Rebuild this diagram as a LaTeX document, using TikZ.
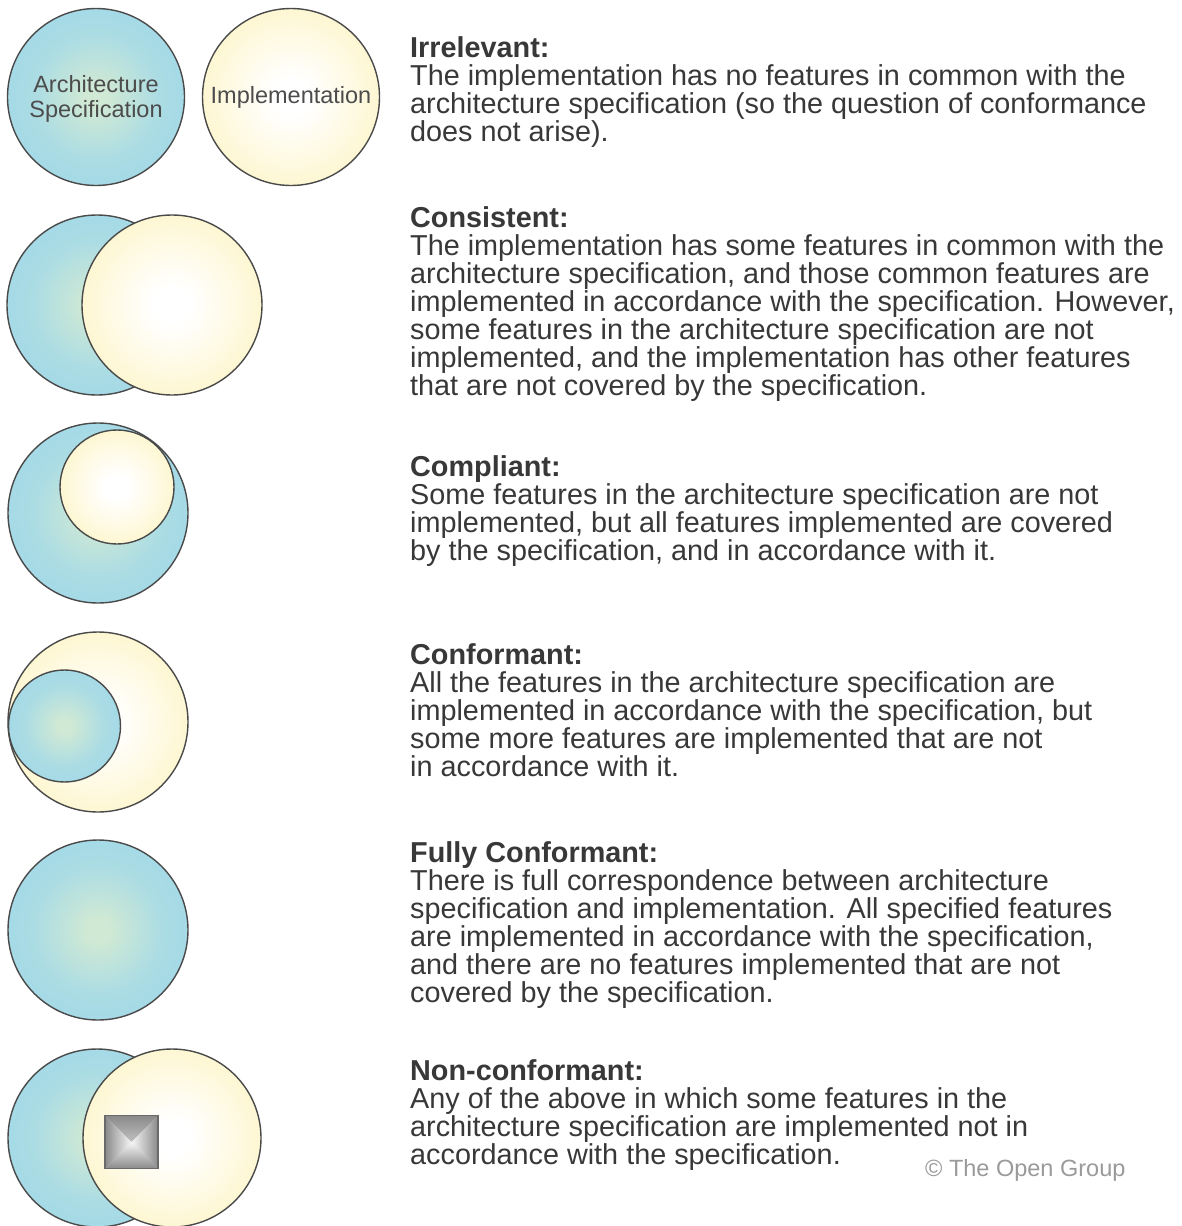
\documentclass[tikz,border=0pt]{standalone}
\usepackage{fontspec}
\setmainfont{Liberation Sans}
\definecolor{bluein}{HTML}{D0E9D4}
\definecolor{bluemid}{HTML}{ABDCE4}
\definecolor{blueout}{HTML}{9AD6E9}
\definecolor{yelin}{HTML}{FFFFFF}
\definecolor{yelout}{HTML}{FCEFA8}
\definecolor{txt}{HTML}{383838}
\definecolor{edgec}{HTML}{4A4A4A}
\definecolor{sqdark}{HTML}{8A8A8A}
\definecolor{sqlight}{HTML}{F6F6F6}
\definecolor{sqedge}{HTML}{6A6A6A}
\definecolor{copyc}{HTML}{9A9A9A}
\pgfdeclareradialshading{specshade}{\pgfpoint{0bp}{0bp}}{color(0bp)=(bluein); color(3bp)=(bluein); color(18bp)=(bluemid); color(36bp)=(blueout); color(50bp)=(blueout)}
\pgfdeclareradialshading{implshade}{\pgfpoint{0bp}{0bp}}{color(0bp)=(yelin); color(5bp)=(yelin); color(44bp)=(yelout); color(50bp)=(yelout)}
\begin{document}
\begin{tikzpicture}[x=1pt, y=-1pt,
  ball/.style={circle, draw=edgec, line width=1.4pt, inner sep=0pt, minimum size=#1},
  specball/.style={ball=#1, shading=specshade},
  implball/.style={ball=#1, shading=implshade},
  lbl/.style={text=txt!90, align=center, font=\fontsize{23.5}{25}\selectfont},
  body/.style={anchor=base west, align=left, inner sep=0pt, text=txt, font=\fontsize{28.8}{28}\selectfont},
  sqbox/.style={rectangle, draw=sqedge, line width=1.6pt, inner sep=0pt, minimum size=#1,
    path picture={
      \shade[top color=sqdark, bottom color=sqlight] (path picture bounding box.north west) -- (path picture bounding box.north east) -- (path picture bounding box.center) -- cycle;
      \shade[bottom color=sqdark, top color=sqlight] (path picture bounding box.south west) -- (path picture bounding box.south east) -- (path picture bounding box.center) -- cycle;
      \shade[left color=sqdark, right color=sqlight] (path picture bounding box.north west) -- (path picture bounding box.south west) -- (path picture bounding box.center) -- cycle;
      \shade[right color=sqdark, left color=sqlight] (path picture bounding box.north east) -- (path picture bounding box.south east) -- (path picture bounding box.center) -- cycle;
    }},
  copy/.style={anchor=base west, inner sep=0pt, text=copyc, font=\fontsize{23.5}{25}\selectfont}
]
\useasboundingbox[fill=white] (0,0) rectangle (1181,1226);
\begin{scope}
\clip (0,0) rectangle (1181,1226);
% Row 1: Irrelevant
\node[specball=177pt, lbl] (s1) at (96,97) {\raisebox{-3pt}[\height][\depth]{\begin{tabular}{@{}c@{}}Architecture\\Specification\end{tabular}}};
\node[implball=177pt, lbl] (i1) at (291,97) {Implementation};
% Row 2: Consistent
\node[specball=180pt] (s2) at (97,305) {};
\node[implball=180pt] (i2) at (172,305) {};
% Row 3: Compliant
\node[specball=180pt] (s3) at (98,513) {};
\node[implball=114pt] (i3) at (117,487) {};
% Row 4: Conformant
\node[implball=180pt] (i4) at (98,722) {};
\node[specball=112pt] (s4) at (64.5,726) {};
% Row 5: Fully conformant
\node[specball=180pt] (s5) at (98,930) {};
% Row 6: Non-conformant
\node[specball=178pt] (s6) at (97,1138) {};
\node[implball=178pt] (i6) at (172,1138) {};
\node[sqbox=53pt] (sq) at (131.5,1142) {};
\end{scope}

\node[body] (t1) at (410,141) {\textbf{Irrelevant:}\\
The implementation has no features in common with the\\
architecture specification (so the question of conformance\\
does not arise).};
\node[body] (t2) at (410,395) {\textbf{Consistent:}\\
The implementation has some features in common with the\\
architecture specification, and those common features are\\
implemented in accordance with the specification. However,\\
some features in the architecture specification are not\\
implemented, and the implementation has other features\\
that are not covered by the specification.};
\node[body] (t3) at (410,560) {\textbf{Compliant:}\\
Some features in the architecture specification are not\\
implemented, but all features implemented are covered\\
by the specification, and in accordance with it.};
\node[body] (t4) at (410,776) {\textbf{Conformant:}\\
All the features in the architecture specification are\\
implemented in accordance with the specification, but\\
some more features are implemented that are not\\
in accordance with it.};
\node[body] (t5) at (410,1002) {\textbf{Fully Conformant:}\\
There is full correspondence between architecture\\
specification and implementation. All specified features\\
are implemented in accordance with the specification,\\
and there are no features implemented that are not\\
covered by the specification.};
\node[body] (t6) at (410,1164) {\textbf{Non-conformant:}\\
Any of the above in which some features in the\\
architecture specification are implemented not in\\
accordance with the specification.};
\node[copy] (cp) at (925,1176) {© The Open Group};
\end{tikzpicture}
\end{document}
